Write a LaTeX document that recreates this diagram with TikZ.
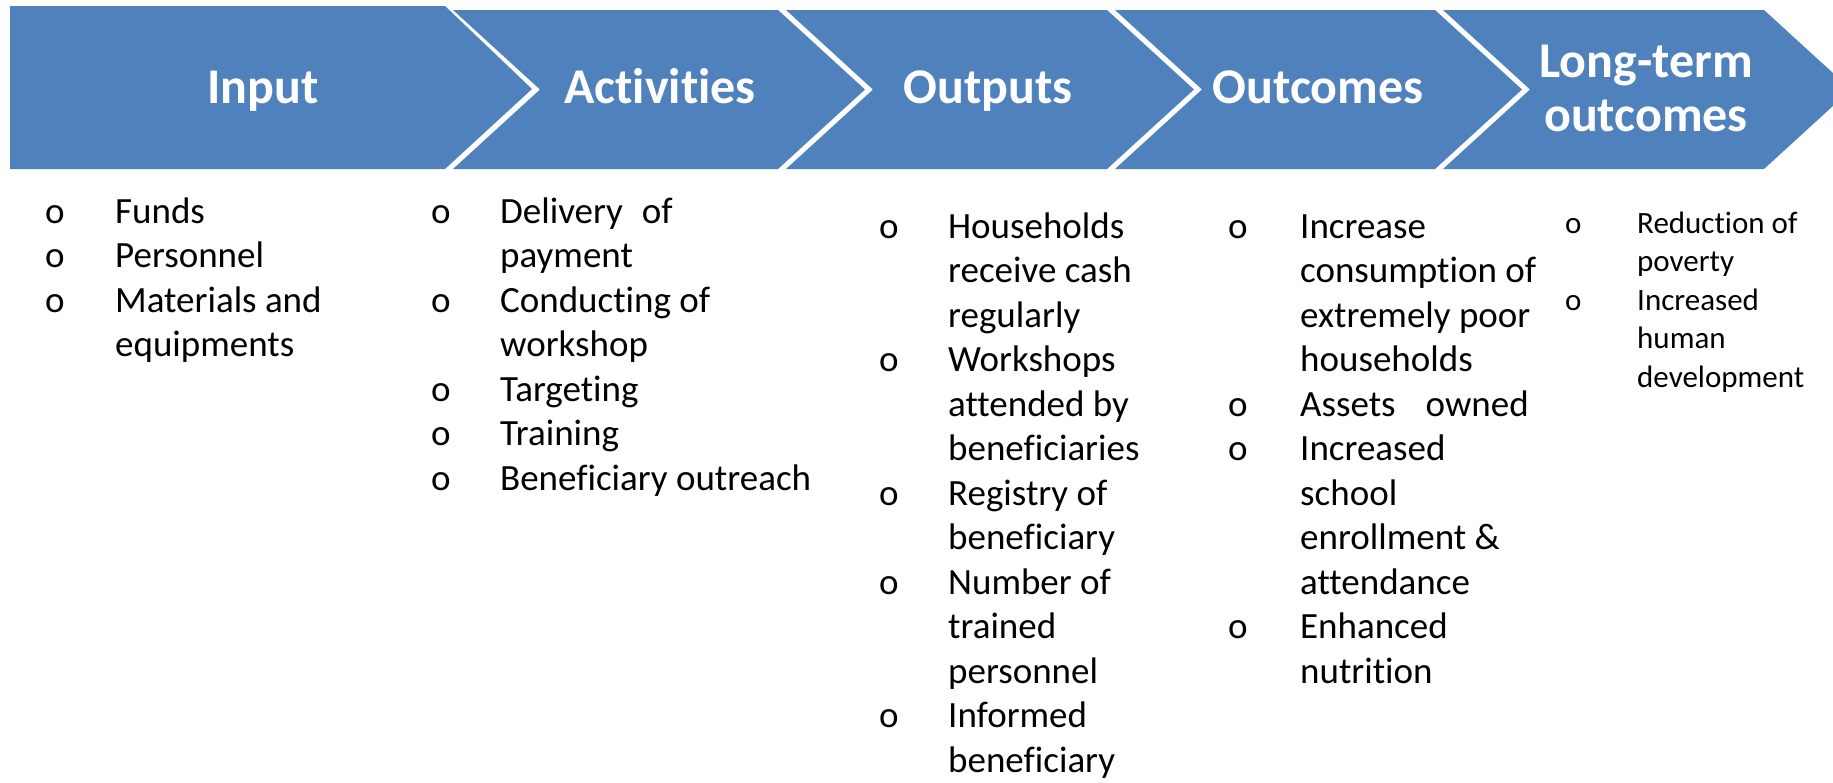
\documentclass[tikz,border=0pt]{standalone}
\usepackage{fontspec}
\setmainfont{Carlito}[Ligatures=NoCommon]
\definecolor{chevblue}{RGB}{79,129,189}
\begin{document}
\begin{tikzpicture}[x=1pt,y=-1pt,
  head/.style={text=white,align=center,font=\fontsize{50}{54}\selectfont\bfseries},
  list/.style={anchor=base west,inner sep=0pt,font=\fontsize{37}{44.5}\selectfont},
  smalllist/.style={list,font=\fontsize{31}{38.6}\selectfont}]
\useasboundingbox (0,0) rectangle (1833,782);
\clip (0,0) rectangle (1833,782);
% first arrow has a flat back, the others are notched
\fill[chevblue] (10,6) -- (445,6) -- (532,89) -- (445,169) -- (10,169) -- cycle;
\foreach \l/\r in {453/778,786/1107,1115/1435,1443/1764}
\fill[chevblue] (\l,10) -- (\r,10) -- (\r+87,89.5) -- (\r,169) -- (\l,169) -- (\l+87,89.5) -- cycle;
\node[head,anchor=base] (input) at (263,103) {Input};
\node[head,anchor=base] (activities) at (660,103) {Activities};
\node[head,anchor=base] (outputs) at (988,103) {Outputs};
\node[head,anchor=base] (outcomes) at (1318,103) {Outcomes};
\node[head] (longterm) at (1646,88) {Long-term\\outcomes};
% bullet lists under each arrow
\node[list] (inputlist) at (45,223) {\begin{tabular}[t]{@{}p{70pt}@{}l@{}}
o & Funds\\
o & Personnel\\
o & Materials and\\
  & equipments
\end{tabular}};
\node[list] (activitylist) at (431,223) {\begin{tabular}[t]{@{}p{69pt}@{}l@{}}
o & Delivery\hspace{19pt}of\\
  & payment\\
o & Conducting of\\
  & workshop\\
o & Targeting\\
o & Training\\
o & Beneficiary outreach
\end{tabular}};
\node[list] (outputlist) at (879,238) {\begin{tabular}[t]{@{}p{69pt}@{}l@{}}
o & Households\\
  & receive cash\\
  & regularly\\
o & Workshops\\
  & attended by\\
  & beneficiaries\\
o & Registry of\\
  & beneficiary\\
o & Number of\\
  & trained\\
  & personnel\\
o & Informed\\
  & beneficiary
\end{tabular}};
\node[list] (outcomelist) at (1228,238) {\begin{tabular}[t]{@{}p{72pt}@{}l@{}}
o & Increase\\
  & consumption of\\
  & extremely poor\\
  & households\\
o & Assets\hspace{30pt}owned\\
o & Increased\\
  & school\\
  & enrollment \&\\
  & attendance\\
o & Enhanced\\
  & nutrition
\end{tabular}};
\node[smalllist] (longtermlist) at (1565,233) {\begin{tabular}[t]{@{}p{72pt}@{}l@{}}
o & Reduction of\\
  & poverty\\
o & Increased\\
  & human\\
  & development
\end{tabular}};
\end{tikzpicture}
\end{document}
